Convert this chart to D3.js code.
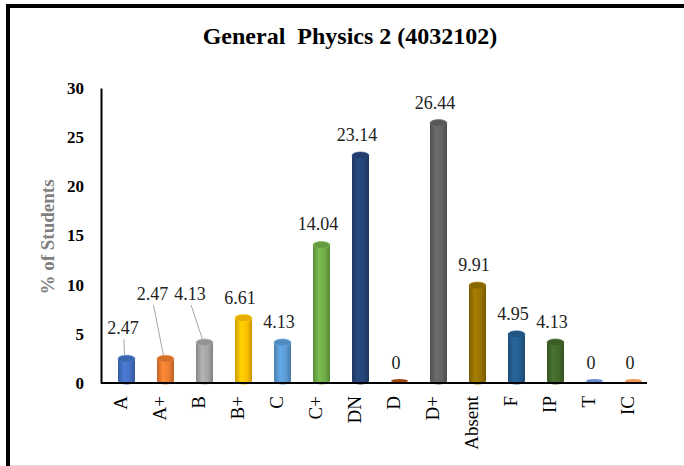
<!DOCTYPE html>
<html><head><meta charset="utf-8">
<script src="https://cdn.jsdelivr.net/npm/d3@7"></script>
<style>
html,body{margin:0;padding:0;background:#fff;}
svg{display:block;}
svg text{font-family:"Liberation Serif","Times New Roman",serif;}
</style></head>
<body>
<svg id="chart" width="684" height="466"></svg>
<script>
const categories = ["A","A+","B","B+","C","C+","DN","D","D+","Absent","F","IP","T","IC"];
const values = [2.47,2.47,4.13,6.61,4.13,14.04,23.14,0,26.44,9.91,4.95,4.13,0,0];
const colors = ["#4472C4","#ED7D31","#A5A5A5","#FFC000","#5B9BD5","#70AD47","#264478","#9E480E","#636363","#997300","#255E91","#43682B","#698ED0","#F1975A"];
const yTicks = [0,5,10,15,20,25,30];
const title = "General  Physics 2 (4032102)";
const yTitle = "% of Students";
// manual label nudges (px) for crowded labels with leader lines
const labelNudge = {"A":[0,-10],"A+":[-9.5,-44],"B":[-11,-28]};

const FONT = "'Liberation Serif','Times New Roman',serif";
const svg = d3.select("#chart");
// frame
svg.append("rect").attr("x",0).attr("y",0).attr("width",684).attr("height",466).attr("fill","#fff");
svg.append("line").attr("x1",6).attr("x2",684).attr("y1",6).attr("y2",6).attr("stroke","#000").attr("stroke-width",4);
svg.append("line").attr("x1",8).attr("x2",8).attr("y1",4).attr("y2",466).attr("stroke","#000").attr("stroke-width",4);
svg.append("line").attr("x1",10).attr("x2",684).attr("y1",465.5).attr("y2",465.5).attr("stroke","#ddd").attr("stroke-width",1);

svg.append("text").attr("x",350).attr("y",43.5).attr("text-anchor","middle").attr("font-family",FONT)
  .attr("font-weight","bold").attr("font-size",24).attr("fill","#000").style("white-space","pre").text(title);

const x = d3.scaleBand().domain(categories).range([101,647]);
const y = d3.scaleLinear().domain([0,30]).range([383,88]);
const depth = 6; // 3D offset of cylinders
const bw = 17, ry = 3.5;

// gradients
const defs = svg.append("defs");
categories.forEach((c,i)=>{
  const col = d3.color(colors[i]);
  const g = defs.append("linearGradient").attr("id","g"+i).attr("x1","0%").attr("x2","100%");
  g.append("stop").attr("offset","0%").attr("stop-color",col.darker(0.6));
  g.append("stop").attr("offset","35%").attr("stop-color",col.brighter(0.25));
  g.append("stop").attr("offset","70%").attr("stop-color",col);
  g.append("stop").attr("offset","100%").attr("stop-color",col.darker(0.7));
});

const bars = svg.append("g");
categories.forEach((c,i)=>{
  const v = values[i];
  const cx = x(c) + x.bandwidth()/2 + depth;
  const col = d3.color(colors[i]);
  const base = y(0) - 2;
  if (v > 0) {
    const top = y(v);
    bars.append("ellipse").attr("cx",cx).attr("cy",base).attr("rx",bw/2).attr("ry",ry)
      .attr("fill","url(#g"+i+")");
    bars.append("rect").attr("x",cx-bw/2).attr("y",top).attr("width",bw).attr("height",base-top)
      .attr("fill","url(#g"+i+")");
    bars.append("ellipse").attr("cx",cx).attr("cy",top).attr("rx",bw/2).attr("ry",ry)
      .attr("fill",col.darker(0.3)).attr("stroke",col.brighter(0.3)).attr("stroke-width",0.6);
  } else {
    bars.append("ellipse").attr("cx",cx).attr("cy",base).attr("rx",bw/2).attr("ry",2)
      .attr("fill",col);
  }
});

// axes
const yAxis = d3.axisLeft(y).tickValues(yTicks).tickSize(0).tickPadding(17);
const gy = svg.append("g").attr("transform","translate(101,0)").call(yAxis);
gy.attr("font-family",FONT);
gy.select(".domain").attr("stroke","#000").attr("stroke-width",2);
gy.selectAll("text").attr("font-family",FONT).attr("font-weight","bold")
  .attr("font-size",17).attr("fill","#000");

const xAxis = d3.axisBottom(x).tickSize(0).tickPadding(0);
const gx = svg.append("g").attr("transform","translate(0,383)").call(xAxis);
gx.attr("font-family",FONT);
gx.select(".domain").attr("stroke","#000").attr("stroke-width",2).attr("d","M101,0H647");
gx.selectAll("text").attr("font-family",FONT).attr("font-size",19).attr("fill","#000")
  .attr("text-anchor","end").attr("transform","rotate(-90)").attr("x",-13).attr("y",0).attr("dy","0.33em");

svg.append("text").attr("transform","translate(54,237) rotate(-90)").attr("text-anchor","middle").attr("font-family",FONT)
  .attr("font-weight","bold").attr("font-size",19).attr("fill","#7f7f7f").text(yTitle);

// value labels
const labels = svg.append("g");
categories.forEach((c,i)=>{
  const v = values[i];
  const bx = x(c) + x.bandwidth()/2;
  let lx = bx + 2.5, ly = y(v) - 14.5;
  const n = labelNudge[c];
  if (n) {
    lx += n[0]; ly += n[1];
    labels.append("line").attr("x1",lx+1).attr("y1",ly+5).attr("x2",bx+depth-2).attr("y2",y(v)-3)
      .attr("stroke","#a6a6a6").attr("stroke-width",1);
  }
  labels.append("text").attr("x",lx).attr("y",ly).attr("text-anchor","middle").attr("font-family",FONT)
    .attr("font-size",18).attr("fill","#222").text(String(v));
});
</script>
</body></html>
